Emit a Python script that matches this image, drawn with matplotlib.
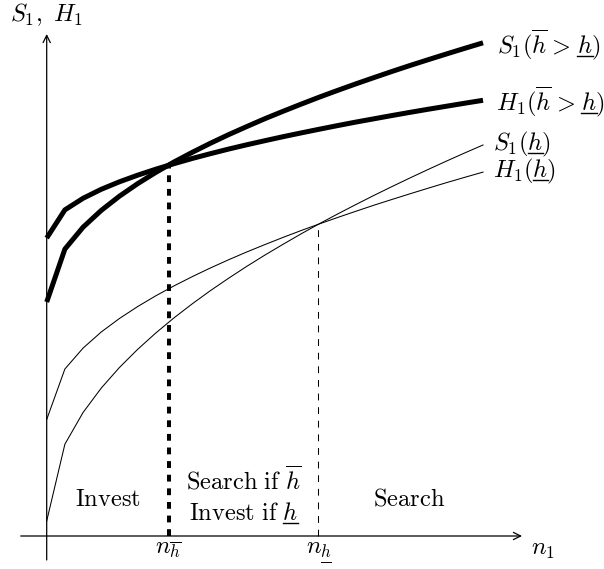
import numpy as np
import matplotlib
matplotlib.use("Agg")
import matplotlib.pyplot as plt
from matplotlib.lines import Line2D
from matplotlib.mathtext import MathTextParser

plt.rcParams["mathtext.fontset"] = "cm"
plt.rcParams["lines.scale_dashes"] = False

# ---------------- data ----------------
n1 = list(range(25))
S1_high = [234.0, 286.9, 308.8, 325.6, 339.8, 352.3, 363.6, 374.0, 383.6, 392.7,
           401.3, 409.4, 417.3, 424.7, 431.9, 438.9, 445.6, 452.1, 458.4, 464.6,
           470.6, 476.4, 482.1, 487.7, 493.2]
H1_high = [298.0, 326.1, 337.7, 346.7, 354.2, 360.8, 366.8, 372.3, 377.5, 382.3,
           386.9, 391.2, 395.3, 399.3, 403.1, 406.8, 410.4, 413.9, 417.2, 420.5,
           423.7, 426.8, 429.8, 432.8, 435.7]
S1_low = [15.0, 91.8, 123.5, 147.9, 168.5, 186.6, 203.0, 218.1, 232.1, 245.3,
          257.7, 269.6, 280.9, 291.7, 302.2, 312.3, 322.0, 331.4, 340.6, 349.5,
          358.2, 366.7, 375.0, 383.1, 391.0]
H1_low = [116.5, 167.0, 187.9, 204.0, 217.5, 229.4, 240.2, 250.1, 259.3, 268.0,
          276.2, 284.0, 291.4, 298.6, 305.5, 312.1, 318.5, 324.7, 330.8, 336.6,
          342.3, 347.9, 353.4, 358.7, 363.9]
n_hbar = 6.7
n_hlow = 14.95


def _ok(s):
    try:
        MathTextParser("path").parse(s, dpi=100)
        return True
    except Exception:
        return False


SP = r"\hspace{0.09}" if _ok(r"$a\hspace{0.09}b$") else ""
UL = r"\underline{h}"
HAS_UL = _ok(r"$\underline{h}$")

curve_labels = [r"$S_1(\overline{h}" + SP + ">" + SP + UL + ")$",
                r"$H_1(\overline{h}" + SP + ">" + SP + UL + ")$",
                r"$S_1(" + UL + ")$", r"$H_1(" + UL + ")$"]
tick_labels = [r"$n_{\overline{h}}$", r"$n_{" + UL + "}$"]
region_labels = [r"$\mathrm{Invest}$", r"$\mathrm{Search\ if}\ \overline{h}$",
                 r"$\mathrm{Invest\ if}\ " + UL + "$", r"$\mathrm{Search}$"]
axis_labels = [r"$S_1,\ H_1$", r"$n_1$"]

# ---------------- layout ----------------
W, H = 604, 569
X0, DX, Y0 = 46.7, 18.18, 536.0
FS = 17.6

fig = plt.figure(figsize=(W / 100, H / 100), dpi=100)
ax = fig.add_axes([0, 0, 1, 1])
ax.set_xlim(-X0 / DX, (W - X0) / DX)
ax.set_ylim(-(H - Y0), Y0)
ax.axis("off")


def P(px, py):
    return ((px - X0) / DX, Y0 - py)


manual = []


def put(s, x, y, **kw):
    kw.setdefault("fontsize", FS)
    kw.setdefault("va", "baseline")
    if HAS_UL or UL not in s:
        return ax.text(x, y, s, **kw)
    plain = s.replace(UL, "h")
    idx = s.index(UL)
    sub = s[idx - 2:idx] == "_{"
    prefix = plain if sub else plain[:idx + 1] + "$"
    t = ax.text(x, y, plain, **kw)
    manual.append((t, prefix, sub, kw["fontsize"]))
    return t


# axes with arrows
arr = dict(arrowstyle="->", lw=0.9, color="k", shrinkA=0, shrinkB=0, mutation_scale=13)
ax.annotate("", xy=P(522, Y0), xytext=P(20.7, Y0), arrowprops=arr)
ax.annotate("", xy=P(X0, 34), xytext=P(X0, 560), arrowprops=arr)

# curves
ax.plot(n1, S1_high, color="k", lw=3.6, solid_capstyle="butt")
ax.plot(n1, H1_high, color="k", lw=3.6, solid_capstyle="butt")
ax.plot(n1, S1_low, color="k", lw=0.75)
ax.plot(n1, H1_low, color="k", lw=0.75)

# vertical dashed lines at the thresholds
yb = np.interp(n_hbar, n1, S1_high)
yl = np.interp(n_hlow, n1, S1_low)
ax.plot([n_hbar, n_hbar], [0, yb], color="k", lw=2.9, ls=(0, (4.9, 4.9)),
        dash_capstyle="butt")
ax.plot([n_hlow, n_hlow], [0, yl], color="k", lw=0.75, ls=(0, (4.9, 4.9)),
        dash_capstyle="butt")

# curve labels
put(curve_labels[0], *P(497, 53), ha="left")
put(curve_labels[1], *P(496, 110), ha="left")
put(curve_labels[2], *P(493, 150.5), ha="left")
put(curve_labels[3], *P(493, 177.5), ha="left")

# tick labels
put(tick_labels[0], n_hbar, P(0, 554)[1], ha="center")
put(tick_labels[1], n_hlow, P(0, 554)[1], ha="center")
put(axis_labels[1], *P(543, 555), ha="center")
put(axis_labels[0], *P(46, 21), ha="center")

# region labels
put(region_labels[0], n_hbar / 2, P(0, 506)[1], ha="center")
put(region_labels[1], (n_hbar + n_hlow) / 2, P(0, 490)[1], ha="center")
put(region_labels[2], (n_hbar + n_hlow) / 2, P(0, 520)[1], ha="center")
put(region_labels[3], *P(409, 506), ha="center")

# manual underlines (if mathtext lacks \underline)
if manual:
    fig.canvas.draw()
    r = fig.canvas.get_renderer()
    for t, prefix, sub, fs in manual:
        bb = t.get_window_extent(r)
        x, y = t.get_position()
        base = ax.transData.transform((x, y))[1]

        def measure(s):
            tmp = ax.text(x, y, s, fontsize=fs, va="baseline")
            b = tmp.get_window_extent(r)
            tmp.remove()
            return b

        bp = measure(prefix)
        if sub:
            bh = measure(r"$n_{h}$")
            bn = measure(r"$n$")
            hw = bh.width - bn.width
            yu = bh.y0 - 1.5
            lw = 0.7
        else:
            hw = measure(r"$h$").width
            yu = base - 2.6
            lw = 1.0
        xr = bb.x0 + bp.width
        fig.add_artist(Line2D([xr - hw, xr], [yu, yu], color="k", lw=lw,
                              transform=None))

fig.savefig("out.png", dpi=100, facecolor="white")
